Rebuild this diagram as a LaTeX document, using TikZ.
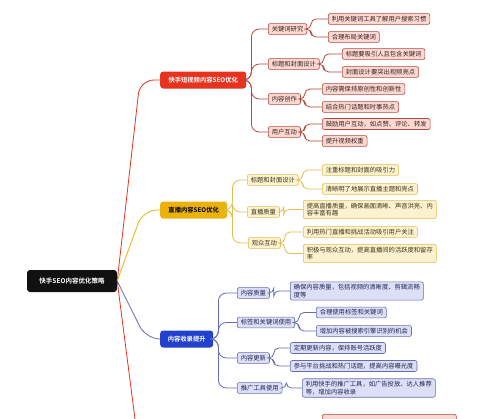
\documentclass[tikz,border=0pt]{standalone}
\usepackage{fontspec}
\setmainfont{Noto Sans CJK SC}[BoldFont={Noto Sans CJK SC Bold}]
\usepackage{tikz}
\usetikzlibrary{positioning}
\definecolor{cRoot}{HTML}{111111}
\definecolor{cRed}{HTML}{E5331F}
\definecolor{cRedLn}{HTML}{B5473C}
\definecolor{cRedFill}{HTML}{FAD9D3}
\definecolor{cRedTxt}{HTML}{3B1E1B}
\definecolor{cGold}{HTML}{EBB20E}
\definecolor{cGoldLn}{HTML}{E0BE52}
\definecolor{cGoldFill}{HTML}{FCF2D0}
\definecolor{cGoldTxt}{HTML}{3E3212}
\definecolor{cBlue}{HTML}{2242CE}
\definecolor{cBlueLn}{HTML}{636DB0}
\definecolor{cBlueFill}{HTML}{DCDFF6}
\definecolor{cBlueTxt}{HTML}{1E2552}
\tikzset{
  rootbox/.style={fill=cRoot,text=white,rounded corners=3pt,font=\fontsize{6.5}{8}\selectfont\bfseries,minimum width=90pt,minimum height=22pt,inner sep=2pt},
  mbox/.style={fill=#1,rounded corners=3pt,font=\fontsize{6.3}{7.5}\selectfont\bfseries,minimum height=17pt,inner sep=2pt,anchor=west},
  lvbox/.style={draw=#1Ln,fill=#1Fill,text=#1Txt,rounded corners=2pt,line width=0.6pt,font=\fontsize{6.3}{7.5}\selectfont,inner xsep=3.5pt,inner ysep=2.5pt,anchor=west,align=left},
  lvbox/.default=cRed,
  ln/.style={line width=0.8pt,color=#1,rounded corners=5pt},
  trunk/.style={line width=0.8pt,color=#1,rounded corners=14pt},
}
\begin{document}
\begin{tikzpicture}[x=1pt,y=-1pt]
  \useasboundingbox (0,0) rectangle (500,418);
  \clip (0,0) rectangle (500,418);
  % root and main branches
  \node[rootbox] (root) at (72,281) {快手SEO内容优化策略};
  \node[mbox=cRed,text=white,minimum width=86pt] (b1) at (160,80) {快手短视频内容SEO优化};
  \node[mbox=cGold,text=black,minimum width=67pt] (b2) at (160,210) {直播内容SEO优化};
  \node[mbox=cBlue,text=white,minimum width=53pt] (b3) at (160,339) {内容收录提升};
  \coordinate (b4) at (139,450);
  \draw[trunk=cRed] (root.east) -- (140,80) -- (b1.west);
  \draw[trunk=cGold] (root.east) -- (143,210) -- (b2.west);
  \draw[trunk=cBlueLn] (root.east) -- (146,339) -- (b3.west);
  \draw[trunk=cRed] (root.east) -- (b4);

  % short video branch
  \node[lvbox] (c11) at (268,29) {关键词研究};
  \node[lvbox] (c12) at (268,64) {标题和封面设计};
  \node[lvbox] (c13) at (268,99) {内容创作};
  \node[lvbox] (c14) at (268,132) {用户互动};
  \node[lvbox] (d111) at (328,19) {利用关键词工具了解用户搜索习惯};
  \node[lvbox] (d112) at (328,37) {合理布局关键词};
  \node[lvbox] (d121) at (342,54) {标题要吸引人且包含关键词};
  \node[lvbox] (d122) at (342,72) {封面设计要突出视频亮点};
  \node[lvbox] (d131) at (322,89) {内容需保持原创性和创新性};
  \node[lvbox] (d132) at (322,107) {结合热门话题和时事热点};
  \node[lvbox] (d141) at (322,124) {鼓励用户互动，如点赞、评论、转发};
  \node[lvbox] (d142) at (322,141) {提升视频权重};
  \foreach \c in {c11,c12,c13,c14}
    \draw[ln=cRedLn,rounded corners=8pt] (b1.east) -- ++(5,0) |- (\c.west);
  \foreach \p/\c in {c11/d111,c11/d112,c12/d121,c12/d122,c13/d131,c13/d132,c14/d141,c14/d142}
    \draw[ln=cRedLn] (\p.east) -- ++(4,0) |- (\c.west);

  % live branch
  \node[lvbox=cGold] (c21) at (247,180) {标题和封面设计};
  \node[lvbox=cGold] (c22) at (247,212) {直播质量};
  \node[lvbox=cGold] (c23) at (248,243) {观众互动};
  \node[lvbox=cGold] (d211) at (322,170) {注重标题和封面的吸引力};
  \node[lvbox=cGold] (d212) at (322,189) {清晰明了地展示直播主题和亮点};
  \node[lvbox=cGold] (d221) at (303,209.5) {提高直播质量，确保画面清晰、声音洪亮、内\\容丰富有趣};
  \node[lvbox=cGold] (d231) at (303,232) {利用热门直播和挑战活动吸引用户关注};
  \node[lvbox=cGold] (d232) at (303,253.5) {积极与观众互动，提高直播间的活跃度和留存\\率};
  \foreach \c in {c21,c22,c23}
    \draw[ln=cGoldLn,rounded corners=8pt] (b2.east) -- ++(5,0) |- (\c.west);
  \foreach \p/\c in {c21/d211,c21/d212,c22/d221,c23/d231,c23/d232}
    \draw[ln=cGoldLn] (\p.east) -- ++(4,0) |- (\c.west);

  % index branch
  \node[lvbox=cBlue] (c31) at (237,293) {内容质量};
  \node[lvbox=cBlue] (c32) at (237,322.5) {标签和关键词使用};
  \node[lvbox=cBlue] (c33) at (237,358) {内容更新};
  \node[lvbox=cBlue] (c34) at (237,388) {推广工具使用};
  \node[lvbox=cBlue] (d311) at (290,291) {确保内容质量，包括视频的清晰度、剪辑流畅\\度等};
  \node[lvbox=cBlue] (d321) at (316,312.5) {合理使用标签和关键词};
  \node[lvbox=cBlue] (d322) at (316,331) {增加内容被搜索引擎识别的机会};
  \node[lvbox=cBlue] (d331) at (290,348) {定期更新内容，保持账号活跃度};
  \node[lvbox=cBlue] (d332) at (290,366) {参与平台挑战和热门话题，提高内容曝光度};
  \node[lvbox=cBlue] (d341) at (302,388) {利用快手的推广工具，如广告投放、达人推荐\\等，增加内容收录};
  \foreach \c in {c31,c32,c33,c34}
    \draw[ln=cBlueLn,rounded corners=8pt] (b3.east) -- ++(5,0) |- (\c.west);
  \foreach \p/\c in {c31/d311,c32/d321,c32/d322,c33/d331,c33/d332,c34/d341}
    \draw[ln=cBlueLn] (\p.east) -- ++(4,0) |- (\c.west);

  % cut-off box at the bottom edge
  \node[lvbox,anchor=north west,minimum width=134pt,minimum height=20pt] (d411) at (322,414) {};
\end{tikzpicture}
\end{document}
